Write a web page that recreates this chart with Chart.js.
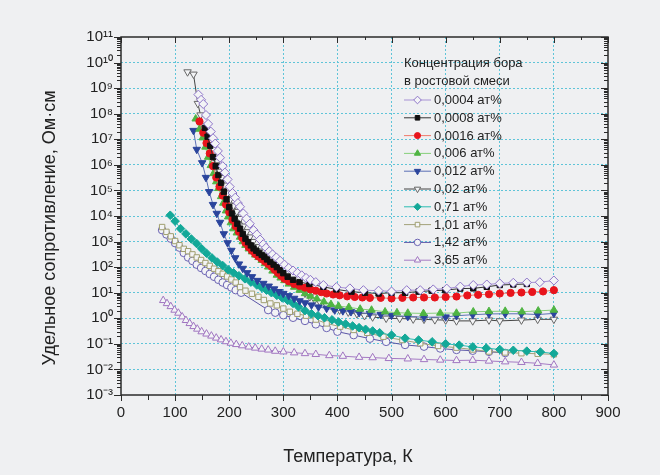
<!DOCTYPE html>
<html>
<head>
<meta charset="utf-8">
<script src="https://cdn.jsdelivr.net/npm/chart.js@4.4.0/dist/chart.umd.min.js"></script>
<style>
  html, body { margin: 0; padding: 0; background: #eff0f2; }
  #quadro { width: 660px; height: 475px; }
</style>
</head>
<body>
<div id="quadro"><canvas id="grafico" width="660" height="475"></canvas></div>
<script>
// концентрация бора 0,0004 ат%
const temp0004 = [143, 148, 152, 157, 161, 166, 170, 174, 179, 183, 188, 192, 197, 201, 206, 211, 216, 220, 226, 232, 238, 245, 251, 257, 263, 268, 274, 280, 287, 294, 302, 310, 318, 326, 334, 342, 350, 360, 374, 398, 423, 448, 476, 500, 528, 553, 577, 602, 627, 651, 676, 700, 725, 750, 774, 800];
const rho0004 = [5.6e8, 3.5e8, 2.4e8, 8.9e7, 4.0e7, 2.0e7, 1.1e7, 6.8e6, 3.5e6, 1.9e6, 8.9e5, 5.0e5, 2.7e5, 1.4e5, 7.9e4, 5.2e4, 3.2e4, 2.3e4, 1.26e4, 7.9e3, 5.0e3, 2.8e3, 1.9e3, 1.2e3, 790, 575, 420, 316, 240, 178, 126, 93, 74, 60, 48, 38, 32, 26, 20, 16.6, 14.8, 12.6, 12, 11.2, 12.6, 12.6, 13.5, 14.5, 17.4, 20, 21, 23, 24.5, 25, 25.7, 30];

// 0,0008 ат%
const temp0008 = [155, 160, 165, 170, 175, 180, 185, 190, 195, 200, 205, 210, 215, 220, 225, 230, 235, 240, 245, 250, 255, 260, 265, 270, 276, 282, 288, 294, 300, 308, 318, 330, 348, 374, 398, 426, 451, 476, 500, 525, 550, 574, 599, 627, 651, 676, 700, 725, 750];
const rho0008 = [2.8e7, 1.26e7, 5.6e6, 2.0e6, 8.9e5, 4.0e5, 2.0e5, 8.9e4, 4.5e4, 2.2e4, 1.26e4, 7.9e3, 5.0e3, 3.2e3, 2.0e3, 1.3e3, 950, 710, 540, 440, 360, 300, 250, 200, 160, 126, 100, 76, 58, 42, 32, 26, 22, 17, 13.5, 11, 10, 9.3, 10, 10, 11, 12, 12.6, 14.5, 14.8, 17, 20, 21, 22];

// 0,0016 ат%
const temp0016 = [145, 152, 158, 164, 170, 176, 182, 188, 194, 200, 206, 212, 218, 224, 230, 236, 242, 248, 254, 260, 266, 272, 278, 284, 290, 296, 302, 310, 320, 330, 340, 350, 360, 370, 380, 392, 404, 418, 432, 446, 460, 480, 500, 520, 540, 560, 580, 600, 620, 640, 660, 680, 700, 720, 740, 760, 780, 800];
const rho0016 = [5.0e7, 1.8e7, 7.1e6, 2.8e6, 8.9e5, 3.2e5, 1.4e5, 6.3e4, 2.8e4, 1.4e4, 7.1e3, 4.0e3, 2.4e3, 1.4e3, 890, 600, 440, 330, 260, 210, 166, 132, 105, 79, 60, 46, 35, 28, 22, 18.6, 15.8, 13.5, 12, 10.5, 9.3, 8.5, 7.9, 7.2, 6.8, 6.5, 6.3, 6.3, 6.0, 6.3, 6.5, 6.5, 6.5, 6.8, 7.1, 7.8, 8.3, 8.7, 9.3, 9.8, 10.2, 10.7, 11.2, 12.6];

// 0,006 ат%
const temp006 = [138, 145, 151, 156, 161, 166, 171, 176, 180, 185, 189, 194, 198, 203, 208, 214, 220, 225, 230, 236, 242, 248, 254, 260, 266, 272, 280, 288, 295, 302, 310, 320, 330, 340, 350, 362, 375, 388, 402, 421, 442, 463, 488, 510, 530, 559, 590, 620, 651, 680, 710, 741, 771, 800];
const rho006 = [6.3e7, 2.5e7, 1.15e7, 5.0e6, 2.0e6, 9.5e5, 4.6e5, 2.2e5, 1.2e5, 5.8e4, 3.2e4, 1.6e4, 9.3e3, 5.5e3, 3.2e3, 2.2e3, 1.5e3, 1.0e3, 720, 520, 400, 300, 240, 186, 138, 102, 71, 49, 38, 30, 22, 16.6, 12.6, 9.3, 7.4, 5.8, 4.4, 3.5, 3.0, 2.7, 2.3, 2.1, 1.8, 1.66, 1.6, 1.55, 1.6, 1.6, 1.8, 1.86, 1.9, 1.8, 1.95, 2.1];

// 0,012 ат%
const temp012 = [134, 140, 150, 157, 163, 170, 177, 183, 190, 197, 204, 211, 218, 225, 233, 242, 252, 263, 273, 283, 292, 300, 310, 320, 330, 340, 352, 365, 380, 395, 410, 425, 440, 460, 480, 500, 530, 560, 600, 620, 650, 680, 710, 740, 770, 800];
const rho012 = [2.2e7, 4.0e6, 1.2e6, 3.2e5, 8.9e4, 2.8e4, 1.26e4, 5.6e3, 2.0e3, 890, 450, 230, 132, 89, 60, 42, 30, 23, 18, 14, 11, 9.3, 7.6, 6.0, 4.8, 4.0, 3.3, 2.75, 2.45, 2.1, 1.95, 1.8, 1.66, 1.55, 1.4, 1.3, 1.17, 1.1, 1.12, 1.26, 1.38, 1.48, 1.5, 1.5, 1.4, 1.55];

// 0,02 ат%
const temp02 = [123, 134, 142, 147, 152, 158, 164, 170, 176, 181, 186, 192, 197, 202, 208, 214, 220, 226, 232, 238, 244, 250, 256, 262, 268, 275, 282, 290, 298, 306, 314, 322, 330, 340, 349, 358, 368, 380, 392, 404, 420, 436, 450, 465, 490, 515, 540, 560, 580, 600, 620, 650, 680, 700, 740, 770, 800];
const rho02 = [4.3e9, 3.5e9, 2.5e8, 8.9e7, 3.5e7, 1.4e7, 5.6e6, 2.2e6, 1.0e6, 5.6e5, 3.2e5, 1.6e5, 7.9e4, 4.5e4, 2.5e4, 1.5e4, 7.9e3, 4.0e3, 2.4e3, 1.5e3, 1.0e3, 630, 420, 280, 200, 138, 105, 79, 60, 46, 30, 21, 15, 9.5, 6.9, 5.2, 4.2, 3.2, 2.5, 2.1, 1.74, 1.5, 1.26, 1.12, 1.0, 0.98, 0.93, 0.91, 0.87, 0.85, 0.79, 0.79, 0.85, 0.79, 0.85, 0.91, 0.91];

// 0,71 ат%
const temp071 = [91, 100, 110, 120, 130, 140, 149, 158, 168, 178, 188, 198, 208, 218, 229, 240, 251, 260, 269, 278, 288, 298, 308, 318, 328, 340, 352, 364, 376, 390, 402, 415, 428, 440, 452, 465, 478, 500, 525, 550, 575, 600, 625, 650, 675, 700, 725, 750, 775, 800];
const rho071 = [1.07e4, 6300, 3200, 2000, 1260, 830, 525, 350, 230, 158, 115, 79, 60, 46, 35, 26, 20, 15.8, 12.6, 10, 7.9, 6.3, 5.0, 3.8, 2.8, 2.0, 1.5, 1.26, 1.05, 0.87, 0.72, 0.6, 0.5, 0.43, 0.37, 0.32, 0.27, 0.22, 0.166, 0.141, 0.12, 0.1, 0.089, 0.076, 0.068, 0.06, 0.056, 0.052, 0.048, 0.042];

// 1,01 ат%
const temp101 = [76, 84, 92, 100, 108, 116, 124, 132, 140, 148, 156, 164, 172, 180, 188, 196, 204, 212, 220, 230, 242, 254, 264, 276, 288, 300, 312, 326, 342, 360, 380, 405, 430, 455, 485, 520, 553, 586, 620, 650, 680, 710, 740, 770, 800];
const rho101 = [3700, 2400, 1600, 1050, 720, 520, 420, 316, 240, 190, 145, 112, 87, 69, 55, 43, 33, 25, 16.6, 12, 9.1, 6.9, 5.2, 3.8, 3.2, 2.4, 1.8, 1.5, 1.26, 0.89, 0.63, 0.47, 0.35, 0.27, 0.19, 0.141, 0.105, 0.083, 0.071, 0.06, 0.05, 0.046, 0.043, 0.041, 0.039];

// 1,42 ат%
const temp142 = [76, 84, 92, 100, 108, 116, 124, 132, 140, 148, 156, 164, 172, 180, 188, 196, 204, 212, 222, 272, 285, 300, 318, 340, 360, 380, 400, 430, 460, 490, 525, 560, 590, 620, 650, 680, 710];
const rho142 = [2800, 1900, 1300, 870, 580, 360, 240, 175, 125, 93, 71, 54, 42, 32, 25, 20, 16, 12.6, 10, 2.1, 1.66, 1.32, 1.05, 0.79, 0.58, 0.42, 0.30, 0.22, 0.16, 0.12, 0.091, 0.078, 0.066, 0.058, 0.054, 0.049, 0.044];

// 3,65 ат%
const temp365 = [78, 85, 92, 99, 106, 113, 120, 127, 134, 141, 149, 158, 167, 176, 185, 194, 203, 213, 224, 236, 248, 260, 272, 285, 300, 320, 340, 360, 385, 410, 440, 465, 495, 530, 560, 590, 620, 650, 680, 710, 740, 770, 800];
const rho365 = [5.0, 3.8, 2.9, 2.1, 1.6, 1.15, 0.83, 0.63, 0.48, 0.38, 0.30, 0.245, 0.204, 0.17, 0.145, 0.123, 0.107, 0.095, 0.085, 0.076, 0.069, 0.063, 0.058, 0.052, 0.049, 0.045, 0.042, 0.039, 0.035, 0.033, 0.030, 0.029, 0.027, 0.026, 0.0245, 0.0234, 0.0224, 0.023, 0.0214, 0.020, 0.019, 0.0174, 0.015];

const rotulos = ['0,0004 ат%', '0,0008 ат%', '0,0016 ат%', '0,006 ат%', '0,012 ат%', '0,02 ат%', '0,71 ат%', '1,01 ат%', '1,42 ат%', '3,65 ат%'];
const ticksX = [0, 100, 200, 300, 400, 500, 600, 700, 800, 900];
const expoentesY = [-3, -2, -1, 0, 1, 2, 3, 4, 5, 6, 7, 8, 9, 10, 11];

const fundo = '#f3f4f6';
const fonte = "'Liberation Sans', Arial, sans-serif";

function pontos(t, r) {
  return t.map((x, i) => ({ x: x, y: r[i] }));
}

const sup = { '0': '⁰', '1': '¹', '2': '²', '3': '³', '4': '⁴', '5': '⁵', '6': '⁶', '7': '⁷', '8': '⁸', '9': '⁹', '-': '⁻' };
function potencia(v) {
  const e = Math.round(Math.log10(v));
  return '10' + String(e).split('').map(c => sup[c]).join('');
}

function serie(i, t, r, linha, marca, preenche, estilo, raio, rot) {
  return {
    label: rotulos[i],
    data: pontos(t, r),
    showLine: true,
    borderColor: linha,
    borderWidth: 1,
    pointStyle: estilo,
    pointRadius: raio,
    pointRotation: rot || 0,
    pointBorderColor: marca,
    pointBackgroundColor: preenche,
    pointBorderWidth: 1
  };
}

const series = [
  serie(0, temp0004, rho0004, '#a792d4', '#8d74c8', fundo, 'rectRot', 4.5),
  serie(1, temp0008, rho0008, '#333333', '#111111', '#111111', 'rect', 3.8),
  serie(2, temp0016, rho0016, '#f07a6a', '#e8141c', '#e8141c', 'circle', 3.6),
  serie(3, temp006, rho006, '#86cf7a', '#4fb443', '#4fb443', 'triangle', 4.3),
  serie(4, temp012, rho012, '#5b6fb5', '#2a449c', '#2a449c', 'triangle', 4.3, 180),
  serie(5, temp02, rho02, '#444444', '#666666', fundo, 'triangle', 4.3, 180),
  serie(6, temp071, rho071, '#2bbcb3', '#13a898', '#13a898', 'rectRot', 4.3),
  serie(7, temp101, rho101, '#a3a27a', '#a09f70', fundo, 'rect', 3.8),
  serie(8, temp142, rho142, '#5b56a6', '#6a62b2', fundo, 'circle', 3.8),
  serie(9, temp365, rho365, '#a57ac4', '#a074c0', fundo, 'triangle', 4.3)
];

// рамка и засечки осей
const moldura = {
  id: 'moldura',
  afterDatasetsDraw(chart) {
    const ctx = chart.ctx;
    const a = chart.chartArea;
    const sx = chart.scales.x, sy = chart.scales.y;
    ctx.save();
    ctx.strokeStyle = '#2b2b2b';
    ctx.lineWidth = 1;
    ctx.beginPath();
    for (let t = 0; t <= 900; t += 50) {
      const px = Math.round(sx.getPixelForValue(t)) + 0.5;
      const big = t % 100 === 0;
      ctx.moveTo(px, a.bottom); ctx.lineTo(px, a.bottom + (big ? 6 : 5));
      ctx.moveTo(px, a.top); ctx.lineTo(px, a.top + (big ? 6 : 3));
    }
    for (let e = -3; e <= 11; e++) {
      for (let m = 1; m <= 9; m++) {
        const v = m * Math.pow(10, e);
        if (v > 1.0001e11) break;
        const py = Math.round(sy.getPixelForValue(v)) + 0.5;
        const big = m === 1;
        ctx.moveTo(a.left, py); ctx.lineTo(a.left - (big ? 7 : 4), py);
        ctx.moveTo(a.right, py); ctx.lineTo(a.right - (big ? 7 : 4), py);
      }
    }
    ctx.stroke();
    ctx.lineWidth = 1.5;
    ctx.strokeRect(a.left, a.top, a.right - a.left, a.bottom - a.top);
    ctx.restore();
  }
};

// легенда внутри поля графика
const legenda = {
  id: 'legenda',
  afterDatasetsDraw(chart) {
    const ctx = chart.ctx;
    const x0 = 404, x1 = 431, y0 = 100, passo = 17.8;
    ctx.save();
    ctx.font = '13px ' + fonte;
    ctx.fillStyle = '#222';
    ctx.textBaseline = 'middle';
    ctx.fillText('Концентрация бора', x0, 63);
    ctx.fillText('в ростовой смеси', x0, 81);
    chart.data.datasets.forEach((ds, i) => {
      const y = y0 + i * passo;
      ctx.strokeStyle = ds.borderColor;
      ctx.lineWidth = 1;
      ctx.beginPath();
      ctx.moveTo(x0, y); ctx.lineTo(x1, y);
      ctx.stroke();
      ctx.fillStyle = ds.pointBackgroundColor;
      ctx.strokeStyle = ds.pointBorderColor;
      Chart.helpers.drawPoint(ctx, {
        pointStyle: ds.pointStyle,
        rotation: ds.pointRotation,
        radius: ds.pointRadius * 0.85,
        borderWidth: 1
      }, (x0 + x1) / 2, y);
      ctx.fillStyle = '#222';
      ctx.fillText(ds.label, x1 + 3, y + 0.5);
    });
    ctx.restore();
  }
};

// подписи осей
const titulos = {
  id: 'titulos',
  afterDraw(chart) {
    const ctx = chart.ctx;
    ctx.save();
    ctx.font = '18px ' + fonte;
    ctx.fillStyle = '#222';
    ctx.textAlign = 'center';
    ctx.textBaseline = 'middle';
    ctx.fillText('Температура, К', 348, 457);
    ctx.translate(50, 228);
    ctx.rotate(-Math.PI / 2);
    ctx.fillText('Удельное сопротивление, Ом·см', 0, 0);
    ctx.restore();
  }
};

const grade = '#5fc4d8';

new Chart(document.getElementById('grafico'), {
  type: 'scatter',
  data: { datasets: series },
  options: {
    responsive: false,
    animation: false,
    events: [],
    layout: { padding: { top: 37, right: 52, left: 0, bottom: 0 } },
    plugins: { legend: { display: false }, tooltip: { enabled: false } },
    scales: {
      x: {
        type: 'linear',
        min: 0,
        max: 900,
        afterBuildTicks: (s) => { s.ticks = ticksX.map(v => ({ value: v })); },
        afterFit: (s) => { s.height = 80; },
        ticks: { font: { size: 15, family: fonte }, color: '#222', padding: 9, maxRotation: 0 },
        grid: {
          drawTicks: false,
          lineWidth: 1,
          color: (c) => (c.tick && (c.tick.value === 0 || c.tick.value === 900)) ? 'rgba(0,0,0,0)' : grade
        },
        border: { display: false, dash: [2, 2] }
      },
      y: {
        type: 'logarithmic',
        min: 1e-3,
        max: 1e11,
        afterBuildTicks: (s) => { s.ticks = expoentesY.map(e => ({ value: Math.pow(10, e) })); },
        afterFit: (s) => { s.width = 121; },
        ticks: { font: { size: 15, family: fonte }, color: '#222', padding: 8, callback: (v) => potencia(v) },
        grid: {
          drawTicks: false,
          lineWidth: 1,
          color: (c) => (c.tick && (c.tick.value < 0.002 || c.tick.value > 5e10)) ? 'rgba(0,0,0,0)' : grade
        },
        border: { display: false, dash: [2, 2] }
      }
    }
  },
  plugins: [moldura, legenda, titulos]
});
</script>
</body>
</html>
